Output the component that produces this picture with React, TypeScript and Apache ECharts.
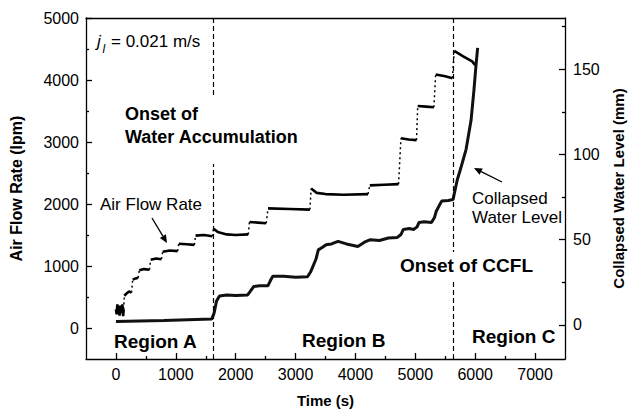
import React, { useEffect, useRef } from "react";
import * as echarts from "echarts";

// ---- data ----
const xTickValues = [0, 1000, 2000, 3000, 4000, 5000, 6000, 7000];
const xMinorTicks = [500, 1500, 2500, 3500, 4500, 5500, 6500];
const leftTickValues = [0, 1000, 2000, 3000, 4000, 5000];
const leftMinorTicks = [500, 1500, 2500, 3500, 4500];
const rightTickValues = [0, 50, 100, 150];
const rightMinorTicks = [25, 75, 125, 175];
const regionBoundaries = [1620, 5630];

// air flow rate (lpm), one sub-array per step
const airTime: number[][] = [
  [0, 12, 24, 36, 48, 60, 72, 84, 96, 108, 120, 130],
  [140, 180, 220, 260],
  [280, 330, 370],
  [390, 470, 560],
  [580, 670, 760],
  [780, 900, 1030],
  [1050, 1180, 1310],
  [1330, 1470, 1610],
  [1630, 1700, 1850, 2000, 2210],
  [2230, 2370, 2510],
  [2540, 2900, 3240],
  [3260, 3350, 3500, 3800, 4210],
  [4240, 4480, 4720],
  [4760, 4890, 5020],
  [5040, 5180, 5310],
  [5340, 5500, 5620],
  [5650, 5800, 5950, 6000],
];
const airFlow: number[][] = [
  [300, 220, 380, 260, 340, 200, 360, 240, 320, 380, 190, 300],
  [520, 560, 590, 570],
  [780, 800, 810],
  [930, 950, 940],
  [1100, 1120, 1110],
  [1230, 1250, 1240],
  [1360, 1350, 1340],
  [1490, 1500, 1480],
  [1600, 1550, 1510, 1500, 1510],
  [1710, 1700, 1690],
  [1930, 1920, 1910],
  [2250, 2180, 2160, 2150, 2160],
  [2300, 2310, 2320],
  [3060, 3040, 3030],
  [3580, 3570, 3560],
  [4090, 4060, 4030],
  [4470, 4380, 4300, 4240],
];

// collapsed water level (mm)
const waterTime = [
  0, 400, 800, 1200, 1600, 1640, 1680, 1730, 1850, 2000, 2200, 2240, 2300, 2400,
  2540, 2580, 2620, 2800, 3000, 3200, 3250, 3340, 3380, 3450, 3510, 3600, 3710,
  3850, 4040, 4150, 4250, 4400, 4550, 4700, 4760, 4800, 4900, 4970, 5030, 5060,
  5150, 5270, 5320, 5350, 5400, 5440, 5550, 5630, 5700, 5760, 5848, 5931, 5980,
  6013, 6041,
];
const waterLevel = [
  2, 2.3, 2.6, 3, 3.4, 7, 14, 17, 17.5, 17.2, 17.6, 19.5, 22.5, 23, 23, 26, 28.5,
  28.5, 28, 28.2, 31, 38.5, 44, 45.5, 47, 47.5, 49, 47.5, 46, 48.5, 50, 49.5, 51,
  51.3, 53, 56, 56.5, 56, 57.5, 60, 60.5, 60, 63, 66.7, 70, 72.6, 73, 73.5, 85,
  92, 103, 120, 138, 152, 162.5,
];

const FONT = 'Arial, "Liberation Sans", sans-serif';

function txt(x: number, y: number, text: string, size: number, bold = false, italic = false) {
  return {
    type: "text",
    x,
    y,
    z: 20,
    style: {
      text,
      fill: "#000",
      font: `${italic ? "italic " : ""}${bold ? "bold " : ""}${size}px ${FONT}`,
      verticalAlign: "middle",
      align: "left",
    },
  };
}

function arrow(x1: number, y1: number, x2: number, y2: number) {
  const dx = x2 - x1;
  const dy = y2 - y1;
  const len = Math.sqrt(dx * dx + dy * dy);
  const ux = dx / len;
  const uy = dy / len;
  const hl = 8;
  const hw = 3.5;
  const bx = x2 - ux * hl;
  const by = y2 - uy * hl;
  return [
    {
      type: "line",
      z: 20,
      shape: { x1, y1, x2: bx, y2: by },
      style: { stroke: "#000", lineWidth: 1.3 },
    },
    {
      type: "polygon",
      z: 20,
      shape: {
        points: [
          [x2, y2],
          [bx - uy * hw, by + ux * hw],
          [bx + uy * hw, by - ux * hw],
        ],
      },
      style: { fill: "#000" },
    },
  ];
}

export default function App() {
  const ref = useRef<HTMLDivElement>(null);

  useEffect(() => {
    if (!ref.current) return;
    const chart = echarts.init(ref.current, undefined, { renderer: "svg" });

    const stepData: any[] = [];
    const transData: any[] = [];
    airTime.forEach((ts, i) => {
      ts.forEach((t, j) => stepData.push([t, airFlow[i][j]]));
      stepData.push([ts[ts.length - 1], null]);
      if (i < airTime.length - 1) {
        transData.push([ts[ts.length - 1], airFlow[i][ts.length - 1]]);
        transData.push([airTime[i + 1][0], airFlow[i + 1][0]]);
        transData.push([airTime[i + 1][0], null]);
      }
    });
    const waterData = waterTime.map((t, i) => [t, waterLevel[i]]);

    const axisLineStyle = { color: "#000", width: 1.3 };
    const labelStyle = {
      color: "#000",
      fontSize: 16,
      fontFamily: FONT,
      formatter: (v: number) => String(v),
    };

    const option: any = {
      animation: false,
      grid: { left: 85, right: 62, top: 18, bottom: 53, containLabel: false },
      xAxis: [
        {
          type: "value",
          position: "bottom",
          min: -500,
          max: 7500,
          axisLine: { show: true, onZero: false, lineStyle: axisLineStyle },
          axisTick: { show: true, inside: true, length: 6, customValues: xTickValues, lineStyle: axisLineStyle },
          axisLabel: { ...labelStyle, margin: 7, customValues: xTickValues },
          splitLine: { show: false },
          name: "Time (s)",
          nameLocation: "middle",
          nameGap: 34,
          nameTextStyle: { color: "#000", fontSize: 15, fontWeight: "bold", fontFamily: FONT },
        },
        {
          type: "value",
          position: "bottom",
          min: -500,
          max: 7500,
          axisLine: { show: false, onZero: false },
          axisTick: { show: true, inside: true, length: 3, customValues: xMinorTicks, lineStyle: axisLineStyle },
          axisLabel: { show: false },
          splitLine: { show: false },
        },
        {
          type: "value",
          position: "top",
          min: -500,
          max: 7500,
          axisLine: { show: true, onZero: false, lineStyle: axisLineStyle },
          axisTick: { show: false },
          axisLabel: { show: false },
          splitLine: { show: false },
        },
      ],
      yAxis: [
        {
          type: "value",
          position: "left",
          min: -500,
          max: 5000,
          axisLine: { show: true, onZero: false, lineStyle: axisLineStyle },
          axisTick: { show: true, inside: true, length: 6, customValues: leftTickValues, lineStyle: axisLineStyle },
          axisLabel: { ...labelStyle, margin: 7, customValues: leftTickValues },
          splitLine: { show: false },
          name: "Air Flow Rate (lpm)",
          nameLocation: "middle",
          nameRotate: 90,
          nameGap: 62,
          nameTextStyle: { color: "#000", fontSize: 16, fontWeight: "bold", fontFamily: FONT },
        },
        {
          type: "value",
          position: "right",
          min: -20,
          max: 180,
          axisLine: { show: true, onZero: false, lineStyle: axisLineStyle },
          axisTick: { show: true, inside: true, length: 6, customValues: rightTickValues, lineStyle: axisLineStyle },
          axisLabel: { ...labelStyle, margin: 8, customValues: rightTickValues },
          splitLine: { show: false },
          name: "Collapsed Water Level (mm)",
          nameLocation: "middle",
          nameRotate: 90,
          nameGap: 46,
          nameTextStyle: { color: "#000", fontSize: 15, fontWeight: "bold", fontFamily: FONT },
        },
        {
          type: "value",
          position: "left",
          min: -500,
          max: 5000,
          axisLine: { show: false, onZero: false },
          axisTick: { show: true, inside: true, length: 3, customValues: leftMinorTicks, lineStyle: axisLineStyle },
          axisLabel: { show: false },
          splitLine: { show: false },
        },
        {
          type: "value",
          position: "right",
          min: -20,
          max: 180,
          axisLine: { show: false, onZero: false },
          axisTick: { show: true, inside: true, length: 3, customValues: rightMinorTicks, lineStyle: axisLineStyle },
          axisLabel: { show: false },
          splitLine: { show: false },
        },
      ],
      series: [
        {
          type: "line",
          name: "Air Flow Rate",
          xAxisIndex: 0,
          yAxisIndex: 0,
          data: stepData,
          showSymbol: false,
          connectNulls: false,
          lineStyle: { color: "#000", width: 2.6 },
          markLine: {
            silent: true,
            symbol: "none",
            label: { show: false },
            lineStyle: { color: "#000", type: [5, 3], width: 1.2 },
            data: regionBoundaries.map((t) => ({ xAxis: t })),
          },
        },
        {
          type: "line",
          name: "transitions",
          xAxisIndex: 0,
          yAxisIndex: 0,
          data: transData,
          showSymbol: false,
          connectNulls: false,
          lineStyle: { color: "#000", width: 1.5, type: [2, 3] },
        },
        {
          type: "line",
          name: "Collapsed Water Level",
          xAxisIndex: 0,
          yAxisIndex: 1,
          data: waterData,
          showSymbol: false,
          lineStyle: { color: "#111", width: 3 },
        },
      ],
      graphic: [
        // white gaps behind annotations crossing the dashed lines
        { type: "rect", z: 15, shape: { x: 205, y: 98, width: 16, height: 66 }, style: { fill: "#fff" } },
        { type: "rect", z: 15, shape: { x: 450, y: 252, width: 14, height: 28 }, style: { fill: "#fff" } },
        txt(97, 41.5, "j", 17, false, true),
        txt(102.5, 49, "l", 12, false, true),
        txt(111, 41.5, "= 0.021 m/s", 17),
        txt(125, 114, "Onset of", 18, true),
        txt(125, 137, "Water Accumulation", 18, true),
        txt(100, 204, "Air Flow Rate", 17),
        ...arrow(152, 218, 167, 243),
        txt(472, 198.5, "Collapsed", 17),
        txt(472, 217, "Water Level", 17),
        ...arrow(502, 182, 474, 168),
        txt(400, 265, "Onset of CCFL", 19, true),
        txt(114, 341, "Region A", 19, true),
        txt(302, 340, "Region B", 19, true),
        txt(472, 336.5, "Region C", 19, true),
      ],
    };

    chart.setOption(option);
    return () => chart.dispose();
  }, []);

  return (
    <div
      ref={ref}
      style={{ position: "absolute", left: 0, top: 0, width: 634, height: 413, background: "#fff" }}
    />
  );
}
